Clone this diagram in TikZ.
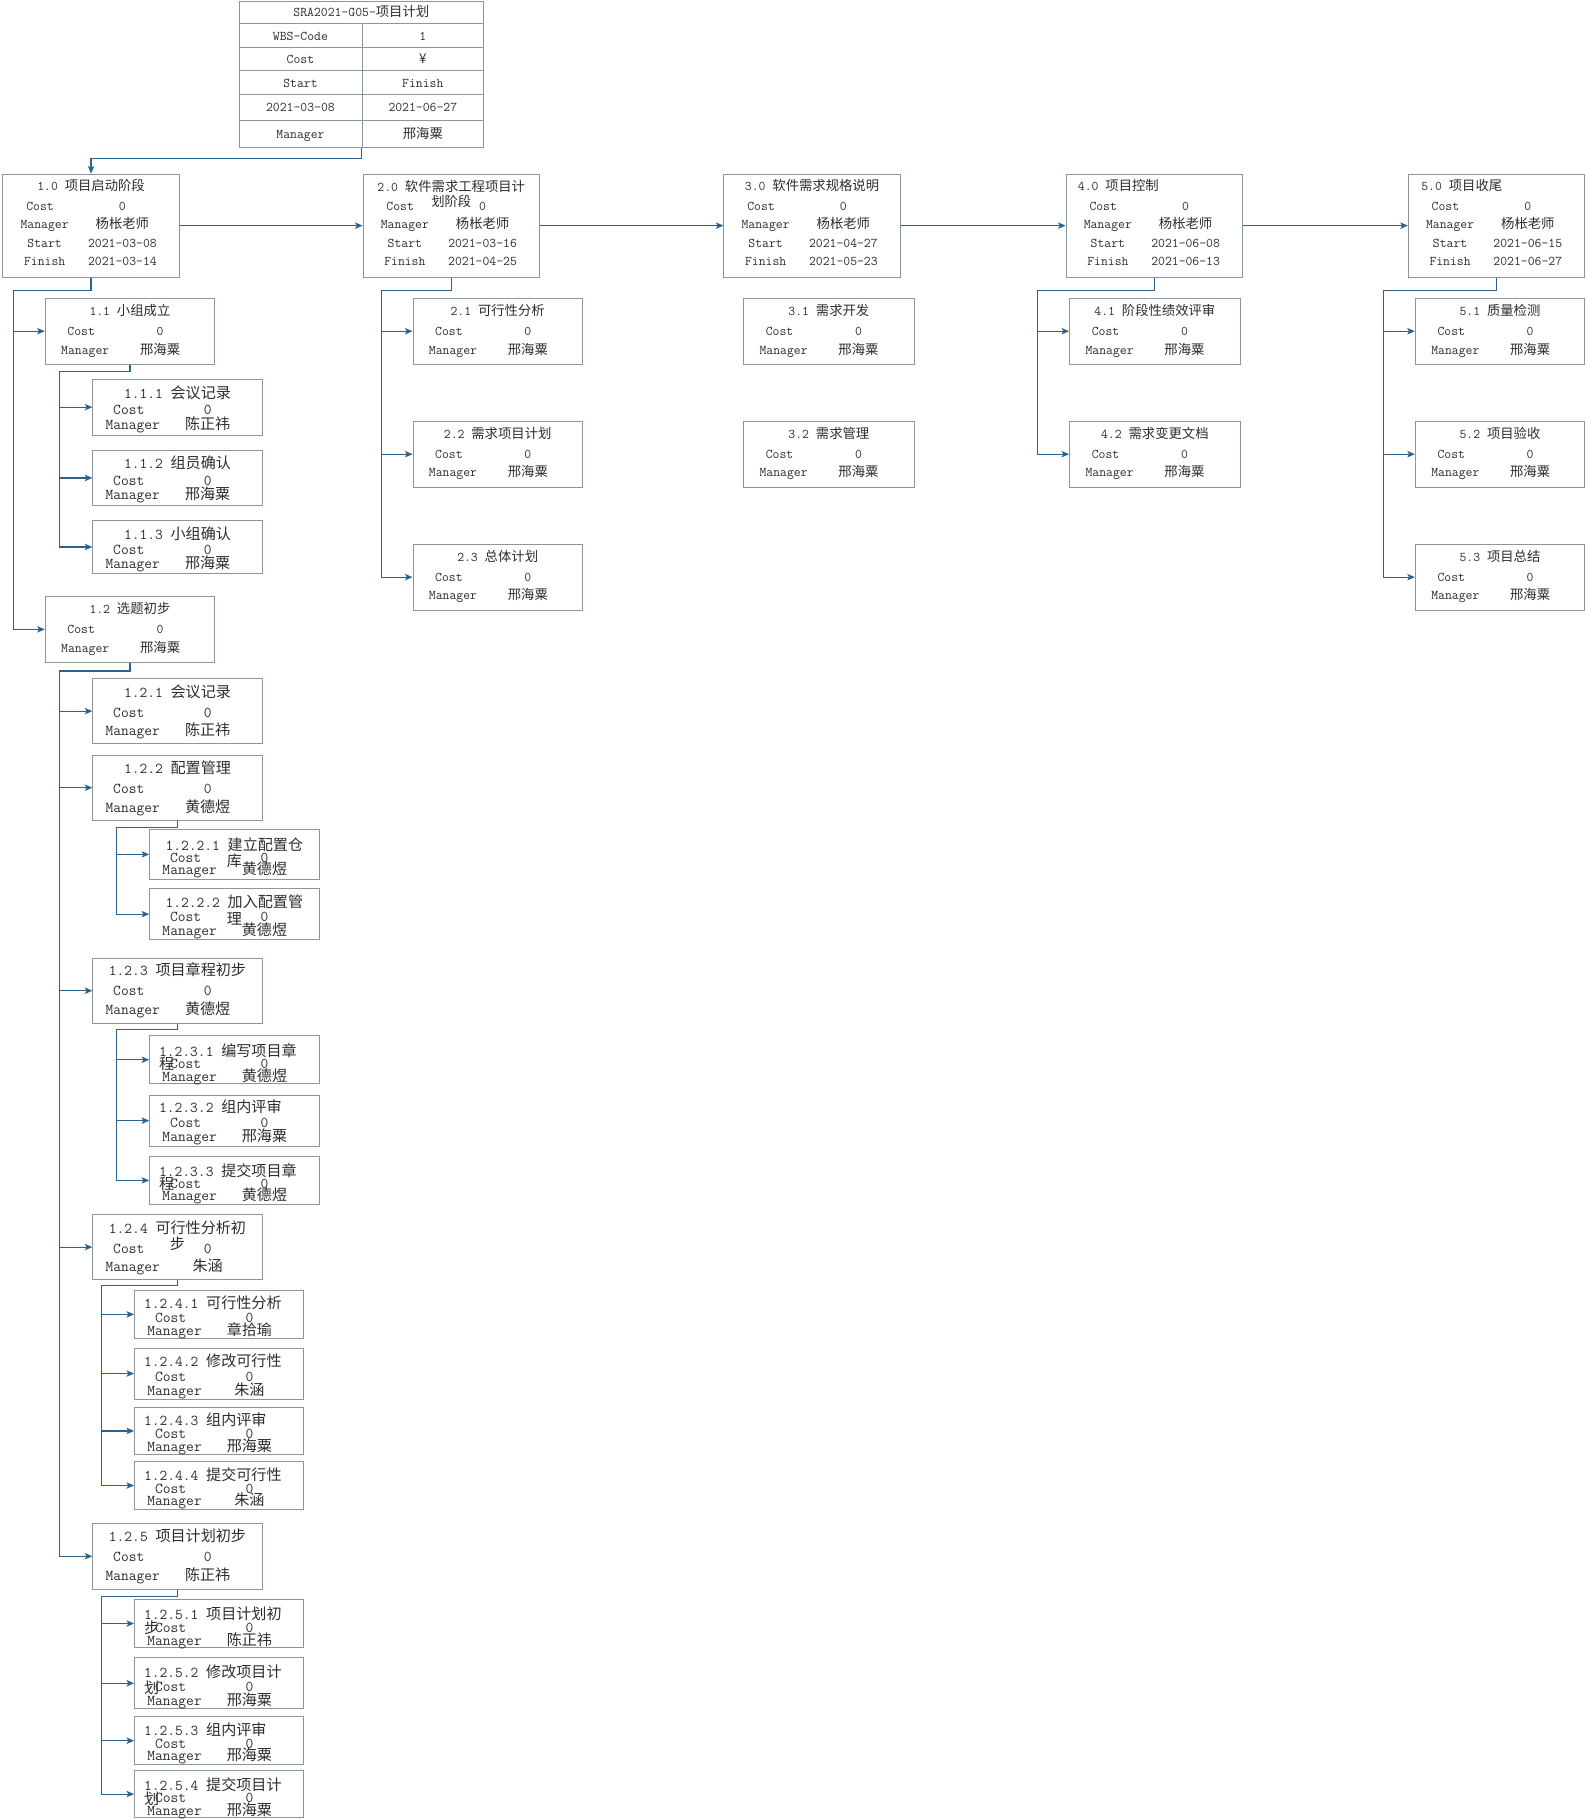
\documentclass[tikz,border=0pt]{standalone}
\usepackage{fontspec}
\usepackage{tikz}
\usetikzlibrary{fit,arrows.meta}
\newfontfamily\cjk{Noto Sans CJK SC}
\definecolor{boxgray}{RGB}{140,150,160}
\definecolor{linkblue}{RGB}{44,98,140}
\definecolor{inkgray}{RGB}{45,45,45}
\newcommand\zh[1]{{\cjk #1}}
\tikzset{%
    taskbox/.style={%
        draw=boxgray, line width=0.8pt, inner sep=0pt
    },
    tablerule/.style={%
        draw=boxgray, line width=0.8pt
    },
    txt/.style={%
        inner sep=0pt, anchor=mid, yshift=-2pt, text=inkgray,
        font=\ttfamily\fontsize{11.5}{13}\selectfont
    },
    bigtxt/.style={%
        txt, font=\ttfamily\fontsize{13}{14}\selectfont
    },
    wbslink/.style={%
        draw=linkblue, line width=1pt,
        -{Stealth[length=6.5pt,width=5.5pt,inset=1.5pt]}
    }
}
% phase box: name, left x, start, finish
\newcommand\phase[4]{%
    \node[taskbox, fit={(#2,150) (#2+152,239)}] (#1) {};
    \node[txt] (#1-cl) at (#2+32,177) {Cost};
    \node[txt] (#1-cv) at (#2+103,177) {0};
    \node[txt] (#1-ml) at (#2+36,193) {Manager};
    \node[txt] (#1-mv) at (#2+103,193) {\zh{杨枨老师}};
    \node[txt] (#1-sl) at (#2+36,209) {Start};
    \node[txt] (#1-sv) at (#2+103,209) {#3};
    \node[txt] (#1-fl) at (#2+36,225) {Finish};
    \node[txt] (#1-fv) at (#2+103,225) {#4};
}
% task box: name, text style, left, top, right, bottom, cost y, manager y, manager
\newcommand\task[9]{%
    \node[taskbox, fit={(#3,#4) (#5,#6)}] (#1) {};
    \node[#2] (#1-cl) at (#3+31,#7) {Cost};
    \node[#2] (#1-cv) at (#3+99,#7) {0};
    \node[#2] (#1-ml) at (#3+34.5,#8) {Manager};
    \node[#2] (#1-mv) at (#3+99,#8) {\zh{#9}};
}

\begin{document}
\begin{tikzpicture}[x=1pt, y=-1pt]
    \useasboundingbox (0,0) rectangle (1367,1568);

    % project table
    \node[taskbox, fit={(206,1) (417,127)}] (plan) {};
    \foreach \y in {20.5,40.5,61,81,103.5}
        \draw[tablerule] (206,\y) -- (417,\y);
    \draw[tablerule] (312.5,20.5) -- (312.5,127);
    \node[txt] (plan-t) at (311.5,10.5) {SRA2021-G05-\zh{项目计划}};
    \node[txt] (plan-wl) at (259,31) {WBS-Code};
    \node[txt] (plan-wv) at (364.5,31) {1};
    \node[txt] (plan-cl) at (259,51) {Cost};
    \node[txt] (plan-cv) at (364.5,51) {\zh{¥}};
    \node[txt] (plan-sl) at (259,71) {Start};
    \node[txt] (plan-fl) at (364.5,71) {Finish};
    \node[txt] (plan-sv) at (259,92) {2021-03-08};
    \node[txt] (plan-fv) at (364.5,92) {2021-06-27};
    \node[txt] (plan-ml) at (259,115) {Manager};
    \node[txt] (plan-mv) at (364.5,115) {\zh{邢海粟}};

    % phases
    \phase{w10}{2.5}{2021-03-08}{2021-03-14}
    \phase{w20}{313}{2021-03-16}{2021-04-25}
    \phase{w30}{624}{2021-04-27}{2021-05-23}
    \phase{w40}{919}{2021-06-08}{2021-06-13}
    \phase{w50}{1214}{2021-06-15}{2021-06-27}
    \node[txt] (w10-t) at (78.5,160) {1.0 \zh{项目启动阶段}};
    \node[txt, anchor=north, align=center] (w20-t) at (389,153)
        {2.0 \zh{软件需求工程项目计}\\\zh{划阶段}};
    \node[txt] (w30-t) at (700,160) {3.0 \zh{软件需求规格说明}};
    \node[txt, anchor=mid west] (w40-t) at (929,160) {4.0 \zh{项目控制}};
    \node[txt, anchor=mid west] (w50-t) at (1225,160) {5.0 \zh{项目收尾}};

    % second level
    \task{w11}{txt}{39}{257}{185}{314}{285}{301}{邢海粟}
    \task{w12}{txt}{39}{514}{185}{571}{542}{558}{邢海粟}
    \task{w21}{txt}{356}{257}{502}{314}{285}{301}{邢海粟}
    \task{w22}{txt}{356}{363}{502}{420}{391}{407}{邢海粟}
    \task{w23}{txt}{356}{469}{502}{526}{497}{513}{邢海粟}
    \task{w31}{txt}{641}{257}{788}{314}{285}{301}{邢海粟}
    \task{w32}{txt}{641}{363}{788}{420}{391}{407}{邢海粟}
    \task{w41}{txt}{922}{257}{1069}{314}{285}{301}{邢海粟}
    \task{w42}{txt}{922}{363}{1069}{420}{391}{407}{邢海粟}
    \task{w51}{txt}{1220}{257}{1366}{314}{285}{301}{邢海粟}
    \task{w52}{txt}{1220}{363}{1366}{420}{391}{407}{邢海粟}
    \task{w53}{txt}{1220}{469}{1366}{526}{497}{513}{邢海粟}
    \node[txt] (w11-t) at (112,268) {1.1 \zh{小组成立}};
    \node[txt] (w12-t) at (112,525) {1.2 \zh{选题初步}};
    \node[txt] (w21-t) at (429,268) {2.1 \zh{可行性分析}};
    \node[txt] (w22-t) at (429,374) {2.2 \zh{需求项目计划}};
    \node[txt] (w23-t) at (429,480) {2.3 \zh{总体计划}};
    \node[txt] (w31-t) at (714.5,268) {3.1 \zh{需求开发}};
    \node[txt] (w32-t) at (714.5,374) {3.2 \zh{需求管理}};
    \node[txt] (w41-t) at (995.5,268) {4.1 \zh{阶段性绩效评审}};
    \node[txt] (w42-t) at (995.5,374) {4.2 \zh{需求变更文档}};
    \node[txt] (w51-t) at (1293,268) {5.1 \zh{质量检测}};
    \node[txt] (w52-t) at (1293,374) {5.2 \zh{项目验收}};
    \node[txt] (w53-t) at (1293,480) {5.3 \zh{项目总结}};

    % third level
    \task{w111}{bigtxt}{80}{327}{226}{375}{353}{366}{陈正祎}
    \task{w112}{bigtxt}{80}{388}{226}{436}{414}{426}{邢海粟}
    \task{w113}{bigtxt}{80}{449}{226}{494}{474}{486}{邢海粟}
    \task{w121}{bigtxt}{80}{585}{226}{641}{614}{630}{陈正祎}
    \task{w122}{bigtxt}{80}{651}{226}{707}{680}{696}{黄德煜}
    \task{w123}{bigtxt}{80}{826}{226}{882}{854}{870}{黄德煜}
    \task{w124}{bigtxt}{80}{1047}{226}{1103}{1076}{1092}{朱涵}
    \task{w125}{bigtxt}{80}{1313}{226}{1370}{1342}{1358}{陈正祎}
    \node[bigtxt] (w111-t) at (153,339) {1.1.1 \zh{会议记录}};
    \node[bigtxt] (w112-t) at (153,400) {1.1.2 \zh{组员确认}};
    \node[bigtxt] (w113-t) at (153,461) {1.1.3 \zh{小组确认}};
    \node[bigtxt] (w121-t) at (153,597) {1.2.1 \zh{会议记录}};
    \node[bigtxt] (w122-t) at (153,663) {1.2.2 \zh{配置管理}};
    \node[bigtxt] (w123-t) at (153,837) {1.2.3 \zh{项目章程初步}};
    \node[bigtxt, anchor=north, align=center] (w124-t) at (153,1050)
        {1.2.4 \zh{可行性分析初}\\\zh{步}};
    \node[bigtxt] (w125-t) at (153,1325) {1.2.5 \zh{项目计划初步}};

    % fourth level
    \task{w1221}{bigtxt}{129}{715}{275}{758}{739}{750}{黄德煜}
    \task{w1222}{bigtxt}{129}{766}{275}{810}{790}{802}{黄德煜}
    \task{w1231}{bigtxt}{129}{893}{275}{934}{917}{928}{黄德煜}
    \task{w1232}{bigtxt}{129}{944}{275}{988}{968}{980}{邢海粟}
    \task{w1233}{bigtxt}{129}{997}{275}{1038}{1020}{1031}{黄德煜}
    \task{w1241}{bigtxt}{116}{1112}{262}{1154}{1136}{1147}{章拾瑜}
    \task{w1242}{bigtxt}{116}{1162}{262}{1206}{1187}{1199}{朱涵}
    \task{w1243}{bigtxt}{116}{1213}{262}{1254}{1236}{1247}{邢海粟}
    \task{w1244}{bigtxt}{116}{1260}{262}{1301}{1283}{1294}{朱涵}
    \task{w1251}{bigtxt}{116}{1379}{262}{1420}{1403}{1414}{陈正祎}
    \task{w1252}{bigtxt}{116}{1429}{262}{1473}{1454}{1466}{邢海粟}
    \task{w1253}{bigtxt}{116}{1480}{262}{1521}{1503}{1513}{邢海粟}
    \task{w1254}{bigtxt}{116}{1526}{262}{1567}{1550}{1561}{邢海粟}
    \node[bigtxt, anchor=north, align=center] (w1221-t) at (202,720)
        {1.2.2.1 \zh{建立配置仓}\\\zh{库}};
    \node[bigtxt, anchor=north, align=center] (w1222-t) at (202,769)
        {1.2.2.2 \zh{加入配置管}\\[1pt]\zh{理}};
    \node[bigtxt, anchor=north west, align=left] (w1231-t) at (137,897)
        {1.2.3.1 \zh{编写项目章}\\[-2pt]\zh{程}};
    \node[bigtxt, anchor=mid west] (w1232-t) at (137,955) {1.2.3.2 \zh{组内评审}};
    \node[bigtxt, anchor=north west, align=left] (w1233-t) at (137,1001)
        {1.2.3.3 \zh{提交项目章}\\[-3pt]\zh{程}};
    \node[bigtxt, anchor=mid west] (w1241-t) at (124,1124) {1.2.4.1 \zh{可行性分析}};
    \node[bigtxt, anchor=mid west] (w1242-t) at (124,1174) {1.2.4.2 \zh{修改可行性}};
    \node[bigtxt, anchor=mid west] (w1243-t) at (124,1225) {1.2.4.3 \zh{组内评审}};
    \node[bigtxt, anchor=mid west] (w1244-t) at (124,1272) {1.2.4.4 \zh{提交可行性}};
    \node[bigtxt, anchor=north west, align=left] (w1251-t) at (124,1383)
        {1.2.5.1 \zh{项目计划初}\\[-2pt]\zh{步}};
    \node[bigtxt, anchor=north west, align=left] (w1252-t) at (124,1433)
        {1.2.5.2 \zh{修改项目计}\\\zh{划}};
    \node[bigtxt, anchor=mid west] (w1253-t) at (124,1492) {1.2.5.3 \zh{组内评审}};
    \node[bigtxt, anchor=north west, align=left] (w1254-t) at (124,1530)
        {1.2.5.4 \zh{提交项目计}\\[-2pt]\zh{划}};

    % connectors
    \draw[wbslink] (plan.south) -- ++(0,9) -| (w10.north);
    \foreach \a/\b in {w10/w20,w20/w30,w30/w40,w40/w50}
        \draw[wbslink] (\a.east) -- (\b.west);
    \foreach \kid in {w11,w12}
        \draw[wbslink] (w10.south) -- ++(0,11) -| ([xshift=-27pt]\kid.west) -- (\kid.west);
    \foreach \kid in {w21,w22,w23}
        \draw[wbslink] (w20.south) -- ++(0,11) -| ([xshift=-27pt]\kid.west) -- (\kid.west);
    \foreach \kid in {w41,w42}
        \draw[wbslink] (w40.south) -- ++(0,11) -| ([xshift=-27pt]\kid.west) -- (\kid.west);
    \foreach \kid in {w51,w52,w53}
        \draw[wbslink] (w50.south) -- ++(0,11) -| ([xshift=-27pt]\kid.west) -- (\kid.west);
    \foreach \kid in {w111,w112,w113}
        \draw[wbslink] (w11.south) -- ++(0,6) -| ([xshift=-28pt]\kid.west) -- (\kid.west);
    \foreach \kid in {w121,w122,w123,w124,w125}
        \draw[wbslink] (w12.south) -- ++(0,7) -| ([xshift=-28pt]\kid.west) -- (\kid.west);
    \foreach \kid in {w1221,w1222}
        \draw[wbslink] (w122.south) -- ++(0,6) -| ([xshift=-28pt]\kid.west) -- (\kid.west);
    \foreach \kid in {w1231,w1232,w1233}
        \draw[wbslink] (w123.south) -- ++(0,5) -| ([xshift=-28pt]\kid.west) -- (\kid.west);
    \foreach \kid in {w1241,w1242,w1243,w1244}
        \draw[wbslink] (w124.south) -- ++(0,5) -| ([xshift=-28pt]\kid.west) -- (\kid.west);
    \foreach \kid in {w1251,w1252,w1253,w1254}
        \draw[wbslink] (w125.south) -- ++(0,6) -| ([xshift=-28pt]\kid.west) -- (\kid.west);
\end{tikzpicture}
\end{document}
